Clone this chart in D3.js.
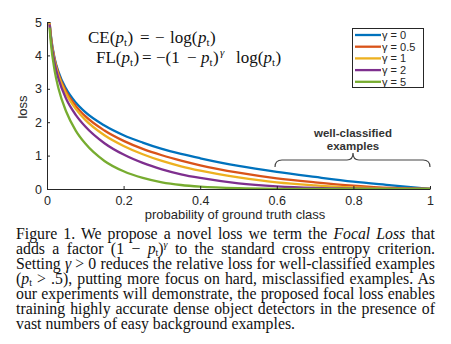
<!DOCTYPE html>
<html><head><meta charset="utf-8">
<script src="https://cdn.jsdelivr.net/npm/d3@7"></script>
<style>
body{margin:0;background:#fff;}
#wrap{position:relative;width:451px;height:344px;overflow:hidden;}
#cap{position:absolute;left:16px;top:226px;width:419px;font-family:"Liberation Serif","Times New Roman",serif;font-size:15.8px;color:#111;}
#cap div{height:15px;line-height:15px;text-align:justify;text-align-last:justify;white-space:nowrap;}
#cap div.last{text-align-last:left;}
</style></head>
<body><div id="wrap"><svg id="chart" width="451" height="344"></svg><div id="cap"></div></div>
<script>
const pValues = [0.0067,0.01,0.02,0.03,0.05,0.075,0.1,0.15,0.2,0.25,0.3,0.35,0.4,0.5,0.6,0.7,0.8,0.9,1.0];
const gammaLabels = ["γ = 0","γ = 0.5","γ = 1","γ = 2","γ = 5"];
const loss_g0  = [5.00,4.61,3.91,3.51,3.00,2.59,2.30,1.90,1.61,1.39,1.20,1.05,0.92,0.69,0.51,0.36,0.22,0.11,0];
const loss_g05 = [4.98,4.58,3.87,3.45,2.92,2.49,2.18,1.75,1.44,1.20,1.01,0.85,0.71,0.49,0.32,0.20,0.10,0.03,0];
const loss_g1  = [4.97,4.56,3.83,3.40,2.85,2.40,2.07,1.61,1.29,1.04,0.84,0.68,0.55,0.35,0.20,0.11,0.045,0.011,0];
const loss_g2  = [4.93,4.51,3.76,3.30,2.70,2.22,1.87,1.37,1.03,0.78,0.59,0.44,0.33,0.17,0.08,0.032,0.009,0.001,0];
const loss_g5  = [4.83,4.38,3.54,3.01,2.32,1.75,1.36,0.84,0.53,0.33,0.20,0.12,0.071,0.022,0.005,0.001,0.0001,0,0];
const xTicks = [0,0.2,0.4,0.6,0.8,1];
const xTickLabels = ["0","0.2","0.4","0.6","0.8","1"];
const yTicks = [0,1,2,3,4,5];
const yTickLabels = ["0","1","2","3","4","5"];
const seriesColors = ["#0072BD","#D95319","#EDB120","#7E2F8E","#77AC30"];
const captionLines = [
 'Figure 1. We propose a novel loss we term the <i>Focal Loss</i> that',
 'adds a factor (1 − <i>p</i><sub>t</sub>)<sup><i>γ</i></sup> to the standard cross entropy criterion.',
 'Setting <i>γ</i> &gt; 0 reduces the relative loss for well-classified examples',
 '(<i>p</i><sub>t</sub> &gt; .5), putting more focus on hard, misclassified examples. As',
 'our experiments will demonstrate, the proposed focal loss enables',
 'training highly accurate dense object detectors in the presence of',
 'vast numbers of easy background examples.'
];

const series = [loss_g0,loss_g05,loss_g1,loss_g2,loss_g5];
const svg = d3.select("#chart");
const L=47,R=430,T=22,B=189;
const x = d3.scaleLinear().domain([0,1]).range([L,R]);
const y = d3.scaleLinear().domain([0,5]).range([B,T]);
const axColor="#262626";
const sans='"Liberation Sans",Arial,Helvetica,sans-serif';

svg.append("defs").append("clipPath").attr("id","clip").append("rect")
  .attr("x",L).attr("y",T-1).attr("width",R-L+2).attr("height",B-T+2);

const line = d3.line().x((d,i)=>x(pValues[i])).y(d=>y(d)).curve(d3.curveMonotoneX);
const g = svg.append("g").attr("clip-path","url(#clip)");
series.forEach((s,k)=>{
  g.append("path").datum(s).attr("d",line).attr("fill","none")
   .attr("stroke",seriesColors[k]).attr("stroke-width",2.3);
});

// axes
const xa = svg.append("g").attr("transform",`translate(0,${B})`)
  .call(d3.axisBottom(x).tickValues(xTicks).tickFormat((d,i)=>xTickLabels[i]).tickSizeInner(-3).tickSizeOuter(0).tickPadding(7));
const ya = svg.append("g").attr("transform",`translate(${L},0)`)
  .call(d3.axisLeft(y).tickValues(yTicks).tickFormat((d,i)=>yTickLabels[i]).tickSizeInner(-3).tickSizeOuter(0).tickPadding(5));
[xa,ya].forEach(a=>{
  a.selectAll("path,line").attr("stroke",axColor).attr("stroke-width",1);
  a.selectAll("text").attr("fill",axColor).attr("font-family",sans).attr("font-size",12.5);
});

svg.append("text").attr("x",235).attr("y",219).attr("text-anchor","middle")
  .attr("font-family",sans).attr("font-size",13).attr("fill",axColor).text("probability of ground truth class");
svg.append("text").attr("transform","translate(27,107) rotate(-90)").attr("text-anchor","middle")
  .attr("font-family",sans).attr("font-size",13).attr("fill",axColor).text("loss");

// formulas
const serif='"Liberation Serif","Times New Roman",serif';
function addPieces(yy, pieces){
  const t = svg.append("text").attr("y",yy).attr("font-family",serif).attr("font-size",17).attr("fill","#111");
  pieces.forEach(p=>{
    const ts = t.append("tspan").attr("x",p[0]).text(p[1]);
    if(p[2]) ts.attr("font-style","italic");
    if(p[3]) { ts.attr("font-size",11).attr("y",yy+p[3]); } else ts.attr("y",yy);
  });
}
// [x, text, italic, dy]
addPieces(43, [
  [88,"CE("],[115.5,"p",1],[124,"t",0,3],[127.5,")"],
  [140,"="],[155,"−"],
  [170,"log("],[198,"p",1],[206.5,"t",0,3],[210,")"]
]);
addPieces(63, [
  [96,"FL("],[121.5,"p",1],[130,"t",0,3],[133.5,")"],
  [142,"="],[156,"−(1"],[187,"−"],
  [201,"p",1],[209.5,"t",0,3],[213,")"],[220,"γ",1,-7],
  [236,"log("],[263.5,"p",1],[272,"t",0,3],[275.5,")"]
]);

// legend
const lg = svg.append("g");
lg.append("rect").attr("x",352.5).attr("y",28.5).attr("width",71).attr("height",59)
  .attr("fill","#fff").attr("stroke",axColor).attr("stroke-width",1);
gammaLabels.forEach((t,k)=>{
  const yy = 35 + k*11.7;
  lg.append("line").attr("x1",355).attr("x2",381).attr("y1",yy).attr("y2",yy)
    .attr("stroke",seriesColors[k]).attr("stroke-width",2.3);
  lg.append("text").attr("x",382).attr("y",yy+4).attr("font-family",sans).attr("font-size",11)
    .attr("fill",axColor).text(t);
});

// brace annotation
svg.append("path").attr("d","M275,167 Q275,160 282,160 L347,160 Q353,160 353,153 Q353,160 359,160 L423,160 Q430,160 430,167")
  .attr("fill","none").attr("stroke","#444").attr("stroke-width",1.2);
svg.append("text").attr("x",353).attr("y",137).attr("text-anchor","middle").attr("font-family",sans)
  .attr("font-weight","bold").attr("font-size",11.5).attr("fill","#333").text("well-classified");
svg.append("text").attr("x",353).attr("y",150).attr("text-anchor","middle").attr("font-family",sans)
  .attr("font-weight","bold").attr("font-size",11.5).attr("fill","#333").text("examples");

// caption
const cap = d3.select("#cap");
captionLines.forEach((l,i)=>{
  cap.append("div").attr("class", i===captionLines.length-1?"last":null).html(l);
});
cap.selectAll("sub").style("font-size","10px").style("vertical-align","-2px").style("line-height","0");
cap.selectAll("sup").style("font-size","10px").style("vertical-align","6px").style("line-height","0");
</script></body></html>
